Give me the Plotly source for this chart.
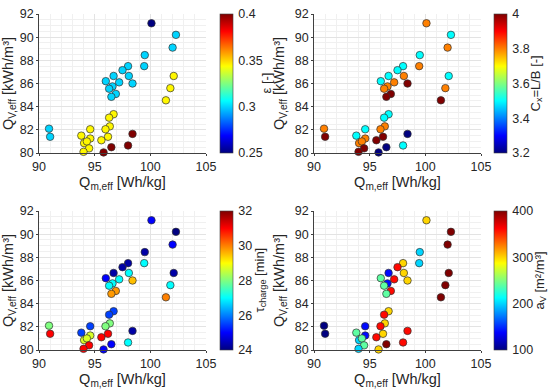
import plotly.graph_objects as go

# Data (same points in all four panels, coloured by different parameters)
q_m = [90.9, 91.0, 100.1, 102.3, 102.0, 99.5, 99.45, 98.0, 97.5, 98.07, 96.7, 96.0, 97.2, 96.6, 96.3,
       98.4, 96.9, 96.5, 101.4, 101.8, 102.1, 96.7, 96.3, 96.36, 95.97, 94.6, 93.8, 94.6, 96.2, 95.6,
       94.05, 94.3, 94.5, 94.0, 95.8, 96.5, 98.0, 98.4]
q_v = [82.1, 81.4, 91.2, 90.2, 89.1, 88.45, 87.5, 87.5, 87.15, 86.65, 86.65, 86.2, 86.1, 85.75, 85.55,
       86.0, 85.1, 84.85, 84.55, 85.6, 86.65, 83.35, 83.05, 82.3, 82.05, 82.05, 81.5, 81.25, 81.4, 81.1,
       80.85, 81.0, 80.4, 80.1, 80.05, 80.5, 80.65, 81.65]
eps = [0.30, 0.30, 0.25, 0.30, 0.30, 0.30, 0.30, 0.30, 0.30, 0.30, 0.30, 0.30, 0.30, 0.30, 0.30,
       0.30, 0.30, 0.30, 0.345, 0.345, 0.345, 0.345, 0.345, 0.345, 0.345, 0.345, 0.345, 0.345, 0.345, 0.345,
       0.345, 0.345, 0.345, 0.345, 0.40, 0.40, 0.40, 0.40]
c_x = [3.8, 4.0, 3.8, 3.5, 3.8, 3.5, 3.8, 3.5, 3.5, 3.8, 3.5, 3.5, 3.8, 3.8, 3.8,
       4.0, 4.0, 4.0, 4.0, 3.8, 3.5, 3.5, 3.5, 3.8, 3.8, 3.5, 3.5, 3.8, 4.0, 4.0,
       3.8, 3.8, 4.0, 4.0, 3.2, 3.2, 3.5, 3.2]
tau = [28.0, 31.0, 25.0, 24.0, 25.0, 24.3, 27.0, 24.3, 24.3, 27.0, 24.3, 25.0, 27.0, 27.0, 27.0,
       29.5, 29.8, 29.8, 30.0, 27.0, 24.3, 25.5, 25.5, 28.0, 28.0, 25.5, 25.5, 28.7, 31.0, 31.0,
       28.7, 28.7, 31.0, 31.0, 25.0, 25.0, 27.0, 24.3]
a_v = [100, 100, 300, 400, 400, 200, 200, 300, 360, 300, 140, 240, 360, 140, 240,
       300, 360, 240, 400, 400, 400, 300, 360, 300, 360, 140, 240, 140, 300, 360,
       200, 240, 240, 200, 300, 400, 360, 360]

x_ticks = [90, 95, 100, 105]
y_ticks = [80, 82, 84, 86, 88, 90, 92]

jet = [[0.0, "rgb(0,0,128)"], [0.125, "rgb(0,0,255)"], [0.375, "rgb(0,255,255)"],
       [0.625, "rgb(255,255,0)"], [0.875, "rgb(255,0,0)"], [1.0, "rgb(128,0,0)"]]

FONT = "Liberation Sans, Arial, Helvetica, sans-serif"
TXT = "#262626"
W, H = 550, 392

panels = [
    dict(c=eps, cmin=0.25, cmax=0.4, ticks=[0.25, 0.3, 0.35, 0.4], title="ε [-]",
         px=(39, 206), py=(14, 153), cb=220, ct=266),
    dict(c=c_x, cmin=3.2, cmax=4.0, ticks=[3.2, 3.4, 3.6, 3.8, 4.0], title="C<sub>x</sub>=L/B [-]",
         px=(314, 481), py=(14, 153), cb=494, ct=536),
    dict(c=tau, cmin=24, cmax=32, ticks=[24, 26, 28, 30, 32], title="τ<sub>charge</sub> [min]",
         px=(39, 206), py=(211, 350), cb=220, ct=260),
    dict(c=a_v, cmin=100, cmax=400, ticks=[100, 200, 300, 400], title="a<sub>V</sub> [m²/m³]",
         px=(314, 481), py=(211, 350), cb=494, ct=540),
]

fig = go.Figure()
annotations = []
for i, p in enumerate(panels):
    n = "" if i == 0 else str(i + 1)
    xd = [p["px"][0] / W, p["px"][1] / W]
    yd = [1 - p["py"][1] / H, 1 - p["py"][0] / H]
    cb_len = p["py"][1] - p["py"][0]
    fig.add_trace(go.Scatter(
        x=q_m, y=q_v, mode="markers", xaxis="x" + n, yaxis="y" + n, showlegend=False, cliponaxis=False,
        marker=dict(size=7.5, color=p["c"], cmin=p["cmin"], cmax=p["cmax"], colorscale=jet,
                    line=dict(color="#303030", width=0.7),
                    colorbar=dict(x=p["cb"] / W, xanchor="left", xref="paper",
                                  y=(yd[0] + yd[1]) / 2, yanchor="middle", len=cb_len, lenmode="pixels",
                                  thickness=13, thicknessmode="pixels", outlinewidth=0.6, outlinecolor="#404040",
                                  tickvals=p["ticks"], ticks="outside", ticklen=3,
                                  tickcolor="rgba(0,0,0,0)",
                                  tickfont=dict(size=12.5, family=FONT, color=TXT), xpad=0, ypad=0))))
    axis_common = dict(showgrid=True, gridcolor="#e3e3e3", gridwidth=0.8, zeroline=False,
                       showline=True, linecolor="#404040", linewidth=0.8, ticks="outside", ticklen=2,
                       tickcolor="#404040", tickfont=dict(size=12.5, family=FONT, color=TXT),
                       mirror=False, automargin=False)
    fig.layout["xaxis" + n] = dict(domain=xd, range=[90, 105], tickvals=x_ticks, anchor="y" + n,
                                   minor=dict(dtick=1, showgrid=True, gridcolor="#f0f0f0", gridwidth=0.6),
                                   title=dict(text="Q<sub>m,eff</sub> [Wh/kg]",
                                              font=dict(size=14.5, family=FONT, color=TXT), standoff=2),
                                   **axis_common)
    fig.layout["yaxis" + n] = dict(domain=yd, range=[80, 92], tickvals=y_ticks, anchor="x" + n,
                                   minor=dict(dtick=0.5, showgrid=True, gridcolor="#f0f0f0", gridwidth=0.6),
                                   title=dict(text="Q<sub>V,eff</sub> [kWh/m³]",
                                              font=dict(size=14.5, family=FONT, color=TXT), standoff=6),
                                   **axis_common)
    annotations.append(dict(text=p["title"], x=p["ct"] / W, y=(yd[0] + yd[1]) / 2, xref="paper", yref="paper",
                            xanchor="center", yanchor="middle", showarrow=False, textangle=-90,
                            font=dict(size=13, family=FONT, color=TXT)))

fig.update_layout(width=W, height=H, margin=dict(l=0, r=0, t=0, b=0, autoexpand=False),
                  paper_bgcolor="white", plot_bgcolor="white", annotations=annotations,
                  font=dict(family=FONT, color=TXT))
fig.write_html("out.html", config={"displayModeBar": False},
               post_script="document.body.style.margin='0';document.body.style.overflow='hidden';")
